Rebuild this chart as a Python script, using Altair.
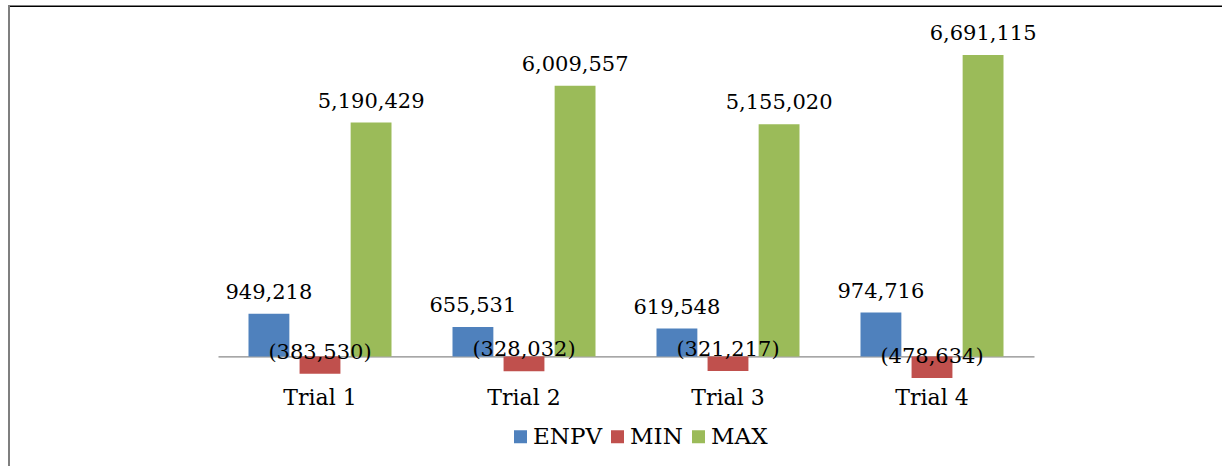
import altair as alt
import pandas as pd

# Trial results per series
trials = ["Trial 1", "Trial 2", "Trial 3", "Trial 4"]
series = ["ENPV", "MIN", "MAX"]
enpv = [949218, 655531, 619548, 974716]
min_vals = [-383530, -328032, -321217, -478634]
max_vals = [5190429, 6009557, 5155020, 6691115]
colors = ["#4F81BD", "#C0504D", "#9BBB59"]

rows = []
for i, t in enumerate(trials):
    for s, vals in zip(series, [enpv, min_vals, max_vals]):
        rows.append({"trial": t, "series": s, "value": vals[i]})
df = pd.DataFrame(rows)

W, H = 816, 338
LEFT, TOP = 218, 41
Y_MIN, Y_MAX = -500000, 7000000
SERIF = "DejaVu Serif"

# pixel distance from the zero line to the bottom of the plot
zero_from_bottom = H * (0 - Y_MIN) / (Y_MAX - Y_MIN)

x = alt.X(
    "trial:N",
    sort=trials,
    scale=alt.Scale(paddingInner=0.299, paddingOuter=0.1495),
    axis=alt.Axis(
        title=None, ticks=False, labelAngle=0,
        domain=True, domainColor="#8a8a8a", domainWidth=1.2,
        offset=-zero_from_bottom,
        labelFont=SERIF, labelFontSize=22, labelColor="#000000",
        labelPadding=48, labelBaseline="alphabetic",
    ),
)
xo = alt.XOffset("series:N", sort=series,
                 scale=alt.Scale(type="band", paddingInner=0.2, paddingOuter=0))
y = alt.Y("value:Q",
          scale=alt.Scale(domain=[Y_MIN, Y_MAX], nice=False),
          axis=None)

bars = alt.Chart(df).mark_bar().encode(
    x=x, xOffset=xo, y=y,
    color=alt.Color(
        "series:N",
        sort=series,
        scale=alt.Scale(domain=series, range=colors),
        legend=alt.Legend(
            title=None, orient="none", direction="horizontal",
            legendX=291, legendY=384,
            symbolType="square", symbolSize=169, symbolStrokeWidth=0,
            labelFont=SERIF, labelFontSize=23, labelColor="#000000",
            labelOffset=1, columnPadding=4,
        ),
    ),
)

labels = alt.Chart(df).transform_calculate(
    label="datum.value < 0 ? '(' + format(-datum.value, ',') + ')' : format(datum.value, ',')"
).mark_text(font=SERIF, fontSize=21, baseline="alphabetic", dy=-15, color="#000000").encode(
    x=x, xOffset=xo, y=y, text="label:N"
)

# chart-area frame (top and left edges) as thin rectangles
one = pd.DataFrame({"k": [0]})
frame_top = alt.Chart(one).mark_rect(color="#000000").encode(
    x=alt.value(8 - LEFT), x2=alt.value(1222 - LEFT),
    y=alt.value(5.5 - TOP), y2=alt.value(7 - TOP),
)
frame_left = alt.Chart(one).mark_rect(color="#7f7f7f").encode(
    x=alt.value(8 - LEFT), x2=alt.value(10 - LEFT),
    y=alt.value(5.5 - TOP), y2=alt.value(466 - TOP),
)

chart = alt.layer(bars, labels, frame_top, frame_left).resolve_scale(
    xOffset="independent"
).properties(
    width=W, height=H,
    autosize=alt.AutoSizeParams(type="none"),
    padding={"left": LEFT, "top": TOP, "right": 1222 - LEFT - W, "bottom": 466 - TOP - H},
    background="white",
).configure_view(stroke=None)

chart.save("out.html", embed_options={"renderer": "svg", "actions": False})
